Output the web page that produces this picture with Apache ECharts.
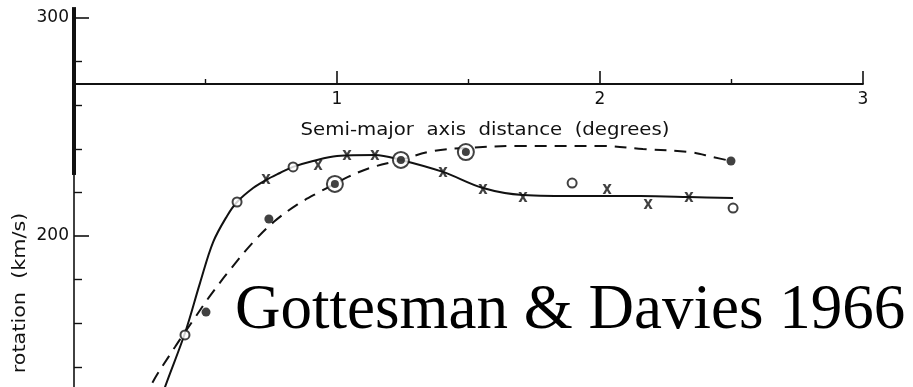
<!DOCTYPE html>
<html><head><meta charset="utf-8">
<script src="https://cdn.jsdelivr.net/npm/echarts@6/dist/echarts.min.js"></script>
<style>html,body{margin:0;padding:0;background:#fff}#c{width:913px;height:387px}</style>
</head><body><div id="c"></div>
<script>
// tick labels
const xTickLabels = ['1', '2', '3'];
const yTickLabels = ['200', '300'];
// observations (semi-major axis distance in degrees, rotation km/s)
const openCircles = [[0.422,154.6],[0.620,215.6],[0.833,231.7],[1.894,224.3],[2.506,212.8]];
const crosses = [[0.730,226.1],[0.928,232.6],[1.038,237.2],[1.144,237.2],[1.403,229.4],[1.555,221.6],[1.707,217.9],[2.027,221.6],[2.183,214.7],[2.338,217.9]];
const filledDots = [[0.502,165.1],[0.741,207.8],[2.498,234.4]];
const circledDots = [[0.992,223.9],[1.243,234.9],[1.490,238.5]];
// fitted curves
const solidCurve = [[0.330,124],[0.346,130.7],[0.422,155.5],[0.479,178.4],[0.529,197.2],[0.582,209.2],[0.620,215.6],[0.681,222.0],[0.730,225.7],[0.783,228.9],[0.833,231.7],[0.909,234.4],[1.000,236.7],[1.144,237.2],[1.243,234.9],[1.403,229.4],[1.555,222.0],[1.707,218.8],[1.924,218.3],[2.152,218.3],[2.338,217.9],[2.506,217.4]];
const dashedCurve = [[0.275,124],[0.289,130.7],[0.384,149.1],[0.449,160.6],[0.520,173.0],[0.600,185.5],[0.680,197.0],[0.760,206.5],[0.850,214.5],[0.935,220.3],[0.992,223.9],[1.042,227.1],[1.125,231.2],[1.243,234.9],[1.365,239.0],[1.490,240.4],[1.696,241.3],[2.000,241.3],[2.163,239.9],[2.342,238.5],[2.430,236.2],[2.498,234.4]];
// heavy upper part of the rotation axis
const axisHeavy = [[0,305],[0,228]];

const ink = '#111';
const chart = echarts.init(document.getElementById('c'));
chart.setOption({
  animation: false,
  backgroundColor: '#fff',
  grid: [
    {left: 74, right: 50, top: 18, height: 436, outerBoundsMode: 'none', containLabel: false},
    {left: 74, right: 50, top: 0, height: 84, outerBoundsMode: 'none', containLabel: false}
  ],
  xAxis: [
    {gridIndex: 0, type: 'value', min: 0, max: 3, show: false},
    {gridIndex: 1, type: 'value', min: 0, max: 3, interval: 1, position: 'bottom',
      axisLine: {lineStyle: {color: ink, width: 1.8}},
      axisTick: {inside: true, length: 13, lineStyle: {color: ink, width: 1.6}},
      minorTick: {show: true, splitNumber: 2, length: 5, lineStyle: {color: ink, width: 1.4}},
      splitLine: {show: false},
      axisLabel: {margin: 7, fontSize: 17, color: ink, fontFamily: 'DejaVu Sans',
        formatter: v => xTickLabels.includes(String(v)) ? String(v) : ''}
    }
  ],
  yAxis: [
    {gridIndex: 0, type: 'value', min: 100, max: 300, interval: 100,
      axisLine: {show: true, lineStyle: {color: ink, width: 1.6}},
      axisTick: {show: true, inside: true, length: 15, lineStyle: {color: ink, width: 1.6}},
      minorTick: {show: true, splitNumber: 5, length: 8, lineStyle: {color: ink, width: 1.4}},
      splitLine: {show: false},
      axisLabel: {margin: 5, fontSize: 17, color: ink, fontFamily: 'DejaVu Sans',
        formatter: v => yTickLabels.includes(String(v)) ? String(v) : ''}
    },
    {gridIndex: 1, type: 'value', min: 0, max: 1, show: false}
  ],
  graphic: [
    {type: 'text', x: 485, y: 131, scaleX: 1.16,
      style: {text: 'Semi-major  axis  distance  (degrees)', fontSize: 17, fontFamily: 'DejaVu Sans', fill: ink, align: 'center', verticalAlign: 'middle'}},
    {type: 'text', x: 21, y: 293, rotation: Math.PI / 2, scaleX: 1.22,
      style: {text: 'rotation  (km/s)', fontSize: 17, fontFamily: 'DejaVu Sans', fill: ink, align: 'center', verticalAlign: 'middle'}},
    {type: 'text', x: 235, y: 311, z: 100,
      style: {text: 'Gottesman & Davies 1966', fontSize: 63, fontFamily: 'Liberation Serif', fill: '#000', align: 'left', verticalAlign: 'middle'}}
  ],
  series: [
    {type: 'line', name: 'axisHeavy', data: axisHeavy, xAxisIndex: 0, yAxisIndex: 0, symbol: 'none', clip: false, silent: true,
      lineStyle: {color: ink, width: 4}, z: 5},
    {type: 'line', name: 'solid', data: solidCurve, symbol: 'none', smooth: 0.35,
      lineStyle: {color: ink, width: 2}},
    {type: 'line', name: 'dashed', data: dashedCurve, symbol: 'none', smooth: 0.35,
      lineStyle: {color: ink, width: 2, type: [12, 8]}},
    {type: 'scatter', name: 'open', data: openCircles, symbol: 'emptyCircle', symbolSize: 9,
      itemStyle: {color: ink, borderColor: ink, borderWidth: 2.2}, z: 10},
    {type: 'scatter', name: 'cross', data: crosses,
      symbol: 'path://M0,0 L3,0 L5,3.2 L7,0 L10,0 L6.6,5 L10,10 L7,10 L5,6.8 L3,10 L0,10 L3.4,5 Z',
      symbolSize: [9, 10], itemStyle: {color: ink}, z: 10},
    {type: 'scatter', name: 'filled', data: filledDots, symbol: 'circle', symbolSize: 9,
      itemStyle: {color: ink}, z: 10},
    {type: 'scatter', name: 'ring', data: circledDots, symbol: 'emptyCircle', symbolSize: 16,
      itemStyle: {color: ink, borderColor: ink, borderWidth: 2.4}, z: 10},
    {type: 'scatter', name: 'ringCentre', data: circledDots, symbol: 'circle', symbolSize: 8,
      itemStyle: {color: ink}, z: 11}
  ]
});
</script>
</body></html>
